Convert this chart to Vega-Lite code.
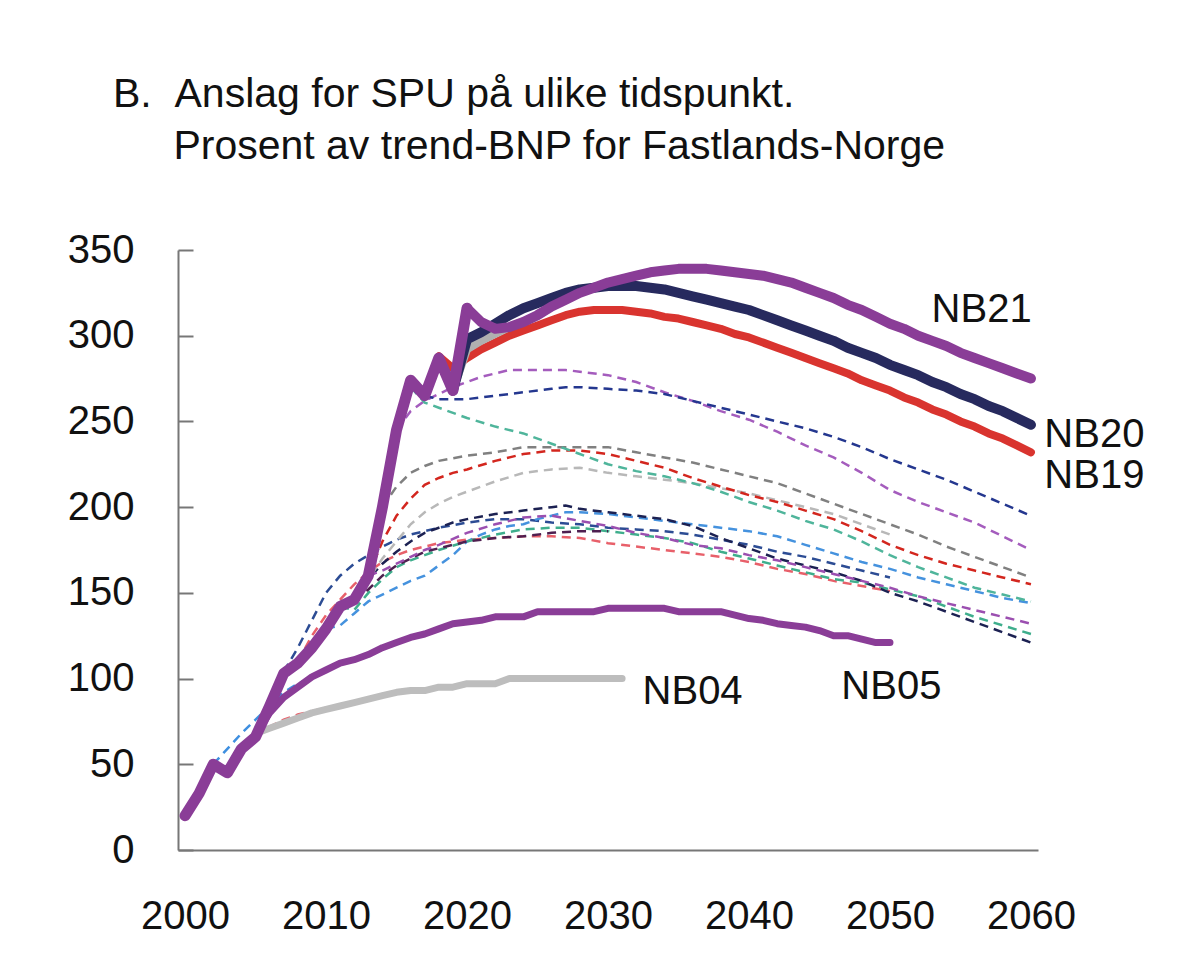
{
"$schema": "https://vega.github.io/schema/vega-lite/v6.json",
"autosize": {"type": "none"},
"width": 860, "height": 600,
"padding": {"left": 178, "top": 250, "right": 162, "bottom": 128},
"background": "white",
"title": {"text": ["B.\u00a0\u00a0Anslag for SPU på ulike tidspunkt.", "\u200b\u00a0\u00a0\u00a0\u00a0\u00a0\u200aProsent av trend-BNP for Fastlands-Norge"], "anchor": "start", "frame": "group", "dx": -65, "offset": 62, "fontSize": 41, "lineHeight": 52, "fontWeight": "normal", "color": "#111111", "font": "Liberation Sans"},
"config": {"view": {"stroke": null}, "font": "Liberation Sans"},
"datasets": {
"lines": [
{"s":"d_blue0","t":2002,"v":50},{"s":"d_blue0","t":2003,"v":59},{"s":"d_blue0","t":2004,"v":68},{"s":"d_blue0","t":2005,"v":76},{"s":"d_blue0","t":2006,"v":84},{"s":"d_blue0","t":2007,"v":92},{"s":"d_blue0","t":2008,"v":97},{"s":"d_blue0","t":2009,"v":101},{"s":"d_blue0","t":2010,"v":104},
{"s":"d_salmon0","t":2005,"v":67},{"s":"d_salmon0","t":2006,"v":72},{"s":"d_salmon0","t":2007,"v":76},{"s":"d_salmon0","t":2008,"v":79},{"s":"d_salmon0","t":2009,"v":81},{"s":"d_salmon0","t":2010,"v":83},
{"s":"d_navyM","t":2007,"v":104},{"s":"d_navyM","t":2008,"v":118},{"s":"d_navyM","t":2009,"v":134},{"s":"d_navyM","t":2010,"v":150},{"s":"d_navyM","t":2011,"v":160},{"s":"d_navyM","t":2012,"v":167},{"s":"d_navyM","t":2013,"v":172},{"s":"d_navyM","t":2014,"v":177},{"s":"d_navyM","t":2015,"v":181},{"s":"d_navyM","t":2016,"v":184},{"s":"d_navyM","t":2017,"v":186},{"s":"d_navyM","t":2018,"v":188},{"s":"d_navyM","t":2020,"v":191},{"s":"d_navyM","t":2022,"v":193},{"s":"d_navyM","t":2024,"v":193},{"s":"d_navyM","t":2026,"v":191},{"s":"d_navyM","t":2028,"v":190},{"s":"d_navyM","t":2030,"v":188},{"s":"d_navyM","t":2032,"v":187},{"s":"d_navyM","t":2034,"v":186},{"s":"d_navyM","t":2036,"v":184},{"s":"d_navyM","t":2038,"v":181},{"s":"d_navyM","t":2040,"v":178},{"s":"d_navyM","t":2042,"v":174},{"s":"d_navyM","t":2044,"v":171},{"s":"d_navyM","t":2046,"v":167},{"s":"d_navyM","t":2048,"v":163},{"s":"d_navyM","t":2050,"v":159},
{"s":"d_salmon","t":2008,"v":110},{"s":"d_salmon","t":2009,"v":125},{"s":"d_salmon","t":2010,"v":137},{"s":"d_salmon","t":2011,"v":146},{"s":"d_salmon","t":2012,"v":155},{"s":"d_salmon","t":2013,"v":162},{"s":"d_salmon","t":2014,"v":168},{"s":"d_salmon","t":2015,"v":172},{"s":"d_salmon","t":2016,"v":175},{"s":"d_salmon","t":2018,"v":179},{"s":"d_salmon","t":2020,"v":181},{"s":"d_salmon","t":2022,"v":182},{"s":"d_salmon","t":2024,"v":183},{"s":"d_salmon","t":2026,"v":183},{"s":"d_salmon","t":2028,"v":182},{"s":"d_salmon","t":2030,"v":179},{"s":"d_salmon","t":2032,"v":177},{"s":"d_salmon","t":2034,"v":175},{"s":"d_salmon","t":2036,"v":173},{"s":"d_salmon","t":2038,"v":171},{"s":"d_salmon","t":2040,"v":168},{"s":"d_salmon","t":2042,"v":164},{"s":"d_salmon","t":2044,"v":161},{"s":"d_salmon","t":2046,"v":157},{"s":"d_salmon","t":2048,"v":154},{"s":"d_salmon","t":2050,"v":151},
{"s":"d_lblue","t":2010,"v":129},{"s":"d_lblue","t":2011,"v":131},{"s":"d_lblue","t":2012,"v":138},{"s":"d_lblue","t":2013,"v":145},{"s":"d_lblue","t":2014,"v":149},{"s":"d_lblue","t":2015,"v":153},{"s":"d_lblue","t":2016,"v":157},{"s":"d_lblue","t":2017,"v":160},{"s":"d_lblue","t":2018,"v":166},{"s":"d_lblue","t":2019,"v":172},{"s":"d_lblue","t":2020,"v":180},{"s":"d_lblue","t":2021,"v":184},{"s":"d_lblue","t":2022,"v":187},{"s":"d_lblue","t":2023,"v":189},{"s":"d_lblue","t":2024,"v":190},{"s":"d_lblue","t":2025,"v":193},{"s":"d_lblue","t":2026,"v":195},{"s":"d_lblue","t":2027,"v":197},{"s":"d_lblue","t":2028,"v":197},{"s":"d_lblue","t":2030,"v":196},{"s":"d_lblue","t":2032,"v":194},{"s":"d_lblue","t":2034,"v":192},{"s":"d_lblue","t":2036,"v":190},{"s":"d_lblue","t":2038,"v":188},{"s":"d_lblue","t":2040,"v":186},{"s":"d_lblue","t":2042,"v":183},{"s":"d_lblue","t":2044,"v":178},{"s":"d_lblue","t":2046,"v":173},{"s":"d_lblue","t":2048,"v":168},{"s":"d_lblue","t":2050,"v":164},{"s":"d_lblue","t":2052,"v":159},{"s":"d_lblue","t":2054,"v":155},{"s":"d_lblue","t":2056,"v":151},{"s":"d_lblue","t":2058,"v":147},{"s":"d_lblue","t":2060,"v":144},
{"s":"d_teal2","t":2011,"v":142},{"s":"d_teal2","t":2012,"v":140},{"s":"d_teal2","t":2013,"v":150},{"s":"d_teal2","t":2014,"v":158},{"s":"d_teal2","t":2015,"v":165},{"s":"d_teal2","t":2016,"v":169},{"s":"d_teal2","t":2017,"v":172},{"s":"d_teal2","t":2018,"v":175},{"s":"d_teal2","t":2020,"v":180},{"s":"d_teal2","t":2022,"v":184},{"s":"d_teal2","t":2024,"v":187},{"s":"d_teal2","t":2026,"v":188},{"s":"d_teal2","t":2028,"v":188},{"s":"d_teal2","t":2030,"v":186},{"s":"d_teal2","t":2032,"v":184},{"s":"d_teal2","t":2034,"v":182},{"s":"d_teal2","t":2036,"v":179},{"s":"d_teal2","t":2038,"v":174},{"s":"d_teal2","t":2040,"v":170},{"s":"d_teal2","t":2042,"v":166},{"s":"d_teal2","t":2044,"v":162},{"s":"d_teal2","t":2046,"v":158},{"s":"d_teal2","t":2048,"v":156},{"s":"d_teal2","t":2050,"v":152},{"s":"d_teal2","t":2052,"v":148},{"s":"d_teal2","t":2054,"v":142},{"s":"d_teal2","t":2056,"v":136},{"s":"d_teal2","t":2058,"v":131},{"s":"d_teal2","t":2060,"v":126},
{"s":"d_dnavy","t":2012,"v":146},{"s":"d_dnavy","t":2013,"v":158},{"s":"d_dnavy","t":2014,"v":167},{"s":"d_dnavy","t":2015,"v":174},{"s":"d_dnavy","t":2016,"v":180},{"s":"d_dnavy","t":2017,"v":185},{"s":"d_dnavy","t":2018,"v":188},{"s":"d_dnavy","t":2019,"v":191},{"s":"d_dnavy","t":2020,"v":193},{"s":"d_dnavy","t":2022,"v":196},{"s":"d_dnavy","t":2024,"v":198},{"s":"d_dnavy","t":2026,"v":200},{"s":"d_dnavy","t":2027,"v":201},{"s":"d_dnavy","t":2028,"v":199},{"s":"d_dnavy","t":2030,"v":197},{"s":"d_dnavy","t":2032,"v":195},{"s":"d_dnavy","t":2034,"v":193},{"s":"d_dnavy","t":2036,"v":189},{"s":"d_dnavy","t":2038,"v":182},{"s":"d_dnavy","t":2040,"v":176},{"s":"d_dnavy","t":2042,"v":170},{"s":"d_dnavy","t":2044,"v":166},{"s":"d_dnavy","t":2046,"v":162},{"s":"d_dnavy","t":2048,"v":157},{"s":"d_dnavy","t":2050,"v":150},{"s":"d_dnavy","t":2052,"v":145},{"s":"d_dnavy","t":2054,"v":139},{"s":"d_dnavy","t":2056,"v":133},{"s":"d_dnavy","t":2058,"v":127},{"s":"d_dnavy","t":2060,"v":121},
{"s":"d_egg","t":2012,"v":146},{"s":"d_egg","t":2013,"v":152},{"s":"d_egg","t":2014,"v":160},{"s":"d_egg","t":2015,"v":166},{"s":"d_egg","t":2016,"v":170},{"s":"d_egg","t":2017,"v":174},{"s":"d_egg","t":2018,"v":176},{"s":"d_egg","t":2020,"v":180},{"s":"d_egg","t":2022,"v":182},{"s":"d_egg","t":2024,"v":183},{"s":"d_egg","t":2026,"v":185},{"s":"d_egg","t":2028,"v":186},{"s":"d_egg","t":2030,"v":186},
{"s":"d_purp2","t":2013,"v":160},{"s":"d_purp2","t":2014,"v":163},{"s":"d_purp2","t":2015,"v":167},{"s":"d_purp2","t":2016,"v":171},{"s":"d_purp2","t":2017,"v":175},{"s":"d_purp2","t":2018,"v":178},{"s":"d_purp2","t":2020,"v":185},{"s":"d_purp2","t":2022,"v":190},{"s":"d_purp2","t":2024,"v":194},{"s":"d_purp2","t":2026,"v":195},{"s":"d_purp2","t":2028,"v":192},{"s":"d_purp2","t":2030,"v":189},{"s":"d_purp2","t":2032,"v":185},{"s":"d_purp2","t":2034,"v":182},{"s":"d_purp2","t":2036,"v":178},{"s":"d_purp2","t":2038,"v":176},{"s":"d_purp2","t":2040,"v":172},{"s":"d_purp2","t":2042,"v":169},{"s":"d_purp2","t":2044,"v":165},{"s":"d_purp2","t":2046,"v":161},{"s":"d_purp2","t":2048,"v":157},{"s":"d_purp2","t":2050,"v":153},{"s":"d_purp2","t":2052,"v":148},{"s":"d_purp2","t":2054,"v":144},{"s":"d_purp2","t":2056,"v":140},{"s":"d_purp2","t":2058,"v":136},{"s":"d_purp2","t":2060,"v":132},
{"s":"d_lgray","t":2012,"v":146},{"s":"d_lgray","t":2013,"v":158},{"s":"d_lgray","t":2014,"v":170},{"s":"d_lgray","t":2015,"v":180},{"s":"d_lgray","t":2016,"v":190},{"s":"d_lgray","t":2017,"v":197},{"s":"d_lgray","t":2018,"v":202},{"s":"d_lgray","t":2019,"v":206},{"s":"d_lgray","t":2020,"v":209},{"s":"d_lgray","t":2022,"v":215},{"s":"d_lgray","t":2024,"v":220},{"s":"d_lgray","t":2026,"v":222},{"s":"d_lgray","t":2028,"v":223},{"s":"d_lgray","t":2030,"v":220},{"s":"d_lgray","t":2032,"v":218},{"s":"d_lgray","t":2034,"v":216},{"s":"d_lgray","t":2036,"v":214},{"s":"d_lgray","t":2038,"v":211},{"s":"d_lgray","t":2040,"v":208},{"s":"d_lgray","t":2042,"v":204},{"s":"d_lgray","t":2044,"v":200},{"s":"d_lgray","t":2046,"v":196},{"s":"d_lgray","t":2048,"v":190},{"s":"d_lgray","t":2050,"v":184},
{"s":"d_red","t":2013,"v":160},{"s":"d_red","t":2014,"v":180},{"s":"d_red","t":2015,"v":195},{"s":"d_red","t":2016,"v":205},{"s":"d_red","t":2017,"v":213},{"s":"d_red","t":2018,"v":217},{"s":"d_red","t":2019,"v":220},{"s":"d_red","t":2020,"v":222},{"s":"d_red","t":2022,"v":227},{"s":"d_red","t":2024,"v":231},{"s":"d_red","t":2026,"v":233},{"s":"d_red","t":2028,"v":233},{"s":"d_red","t":2030,"v":231},{"s":"d_red","t":2032,"v":227},{"s":"d_red","t":2034,"v":223},{"s":"d_red","t":2036,"v":217},{"s":"d_red","t":2038,"v":212},{"s":"d_red","t":2040,"v":207},{"s":"d_red","t":2042,"v":203},{"s":"d_red","t":2044,"v":198},{"s":"d_red","t":2046,"v":193},{"s":"d_red","t":2048,"v":186},{"s":"d_red","t":2050,"v":178},{"s":"d_red","t":2052,"v":172},{"s":"d_red","t":2054,"v":167},{"s":"d_red","t":2056,"v":163},{"s":"d_red","t":2058,"v":159},{"s":"d_red","t":2060,"v":155},
{"s":"d_gray","t":2014,"v":200},{"s":"d_gray","t":2015,"v":212},{"s":"d_gray","t":2016,"v":220},{"s":"d_gray","t":2017,"v":224},{"s":"d_gray","t":2018,"v":227},{"s":"d_gray","t":2020,"v":230},{"s":"d_gray","t":2022,"v":232},{"s":"d_gray","t":2024,"v":235},{"s":"d_gray","t":2026,"v":235},{"s":"d_gray","t":2028,"v":235},{"s":"d_gray","t":2030,"v":235},{"s":"d_gray","t":2032,"v":232},{"s":"d_gray","t":2034,"v":229},{"s":"d_gray","t":2036,"v":226},{"s":"d_gray","t":2038,"v":222},{"s":"d_gray","t":2040,"v":218},{"s":"d_gray","t":2042,"v":214},{"s":"d_gray","t":2044,"v":208},{"s":"d_gray","t":2046,"v":202},{"s":"d_gray","t":2048,"v":196},{"s":"d_gray","t":2050,"v":190},{"s":"d_gray","t":2052,"v":184},{"s":"d_gray","t":2054,"v":177},{"s":"d_gray","t":2056,"v":171},{"s":"d_gray","t":2058,"v":165},{"s":"d_gray","t":2060,"v":159},
{"s":"d_purp1","t":2015,"v":245},{"s":"d_purp1","t":2016,"v":256},{"s":"d_purp1","t":2017,"v":262},{"s":"d_purp1","t":2018,"v":266},{"s":"d_purp1","t":2019,"v":270},{"s":"d_purp1","t":2020,"v":273},{"s":"d_purp1","t":2021,"v":276},{"s":"d_purp1","t":2022,"v":278},{"s":"d_purp1","t":2023,"v":280},{"s":"d_purp1","t":2025,"v":280},{"s":"d_purp1","t":2027,"v":280},{"s":"d_purp1","t":2028,"v":279},{"s":"d_purp1","t":2030,"v":277},{"s":"d_purp1","t":2032,"v":273},{"s":"d_purp1","t":2034,"v":267},{"s":"d_purp1","t":2036,"v":262},{"s":"d_purp1","t":2038,"v":256},{"s":"d_purp1","t":2040,"v":251},{"s":"d_purp1","t":2042,"v":244},{"s":"d_purp1","t":2044,"v":236},{"s":"d_purp1","t":2046,"v":229},{"s":"d_purp1","t":2048,"v":220},{"s":"d_purp1","t":2050,"v":210},{"s":"d_purp1","t":2052,"v":203},{"s":"d_purp1","t":2054,"v":197},{"s":"d_purp1","t":2056,"v":191},{"s":"d_purp1","t":2058,"v":183},{"s":"d_purp1","t":2060,"v":175},
{"s":"d_teal1","t":2016,"v":270},{"s":"d_teal1","t":2017,"v":261},{"s":"d_teal1","t":2018,"v":258},{"s":"d_teal1","t":2020,"v":252},{"s":"d_teal1","t":2022,"v":247},{"s":"d_teal1","t":2024,"v":243},{"s":"d_teal1","t":2026,"v":237},{"s":"d_teal1","t":2028,"v":231},{"s":"d_teal1","t":2030,"v":225},{"s":"d_teal1","t":2032,"v":221},{"s":"d_teal1","t":2034,"v":218},{"s":"d_teal1","t":2036,"v":214},{"s":"d_teal1","t":2038,"v":209},{"s":"d_teal1","t":2040,"v":203},{"s":"d_teal1","t":2042,"v":198},{"s":"d_teal1","t":2044,"v":192},{"s":"d_teal1","t":2046,"v":187},{"s":"d_teal1","t":2048,"v":180},{"s":"d_teal1","t":2050,"v":172},{"s":"d_teal1","t":2052,"v":165},{"s":"d_teal1","t":2054,"v":159},{"s":"d_teal1","t":2056,"v":153},{"s":"d_teal1","t":2058,"v":149},{"s":"d_teal1","t":2060,"v":145},
{"s":"d_navy1","t":2017,"v":265},{"s":"d_navy1","t":2018,"v":263},{"s":"d_navy1","t":2020,"v":263},{"s":"d_navy1","t":2022,"v":265},{"s":"d_navy1","t":2024,"v":267},{"s":"d_navy1","t":2026,"v":269},{"s":"d_navy1","t":2027,"v":270},{"s":"d_navy1","t":2028,"v":270},{"s":"d_navy1","t":2030,"v":269},{"s":"d_navy1","t":2032,"v":268},{"s":"d_navy1","t":2034,"v":266},{"s":"d_navy1","t":2036,"v":262},{"s":"d_navy1","t":2038,"v":258},{"s":"d_navy1","t":2040,"v":254},{"s":"d_navy1","t":2042,"v":250},{"s":"d_navy1","t":2044,"v":246},{"s":"d_navy1","t":2046,"v":241},{"s":"d_navy1","t":2048,"v":235},{"s":"d_navy1","t":2050,"v":228},{"s":"d_navy1","t":2052,"v":222},{"s":"d_navy1","t":2054,"v":216},{"s":"d_navy1","t":2056,"v":209},{"s":"d_navy1","t":2058,"v":202},{"s":"d_navy1","t":2060,"v":195},
{"s":"NB04","t":2005,"v":68},{"s":"NB04","t":2006,"v":71},{"s":"NB04","t":2007,"v":74},{"s":"NB04","t":2008,"v":77},{"s":"NB04","t":2009,"v":80},{"s":"NB04","t":2010,"v":82},{"s":"NB04","t":2011,"v":84},{"s":"NB04","t":2012,"v":86},{"s":"NB04","t":2013,"v":88},{"s":"NB04","t":2014,"v":90},{"s":"NB04","t":2015,"v":92},{"s":"NB04","t":2016,"v":93},{"s":"NB04","t":2017,"v":93},{"s":"NB04","t":2018,"v":95},{"s":"NB04","t":2019,"v":95},{"s":"NB04","t":2020,"v":97},{"s":"NB04","t":2021,"v":97},{"s":"NB04","t":2022,"v":97},{"s":"NB04","t":2023,"v":100},{"s":"NB04","t":2024,"v":100},{"s":"NB04","t":2025,"v":100},{"s":"NB04","t":2026,"v":100},{"s":"NB04","t":2027,"v":100},{"s":"NB04","t":2028,"v":100},{"s":"NB04","t":2029,"v":100},{"s":"NB04","t":2030,"v":100},{"s":"NB04","t":2031,"v":100},
{"s":"NB05","t":2005,"v":67},{"s":"NB05","t":2006,"v":80},{"s":"NB05","t":2007,"v":89},{"s":"NB05","t":2008,"v":95},{"s":"NB05","t":2009,"v":101},{"s":"NB05","t":2010,"v":105},{"s":"NB05","t":2011,"v":109},{"s":"NB05","t":2012,"v":111},{"s":"NB05","t":2013,"v":114},{"s":"NB05","t":2014,"v":118},{"s":"NB05","t":2015,"v":121},{"s":"NB05","t":2016,"v":124},{"s":"NB05","t":2017,"v":126},{"s":"NB05","t":2018,"v":129},{"s":"NB05","t":2019,"v":132},{"s":"NB05","t":2020,"v":133},{"s":"NB05","t":2021,"v":134},{"s":"NB05","t":2022,"v":136},{"s":"NB05","t":2023,"v":136},{"s":"NB05","t":2024,"v":136},{"s":"NB05","t":2025,"v":139},{"s":"NB05","t":2026,"v":139},{"s":"NB05","t":2027,"v":139},{"s":"NB05","t":2028,"v":139},{"s":"NB05","t":2029,"v":139},{"s":"NB05","t":2030,"v":141},{"s":"NB05","t":2031,"v":141},{"s":"NB05","t":2032,"v":141},{"s":"NB05","t":2033,"v":141},{"s":"NB05","t":2034,"v":141},{"s":"NB05","t":2035,"v":139},{"s":"NB05","t":2036,"v":139},{"s":"NB05","t":2037,"v":139},{"s":"NB05","t":2038,"v":139},{"s":"NB05","t":2039,"v":137},{"s":"NB05","t":2040,"v":135},{"s":"NB05","t":2041,"v":134},{"s":"NB05","t":2042,"v":132},{"s":"NB05","t":2043,"v":131},{"s":"NB05","t":2044,"v":130},{"s":"NB05","t":2045,"v":128},{"s":"NB05","t":2046,"v":125},{"s":"NB05","t":2047,"v":125},{"s":"NB05","t":2048,"v":123},{"s":"NB05","t":2049,"v":121},{"s":"NB05","t":2050,"v":121},
{"s":"NB19","t":2018,"v":288},{"s":"NB19","t":2019,"v":281},{"s":"NB19","t":2020,"v":287},{"s":"NB19","t":2021,"v":292},{"s":"NB19","t":2022,"v":296},{"s":"NB19","t":2023,"v":300},{"s":"NB19","t":2024,"v":303},{"s":"NB19","t":2025,"v":306},{"s":"NB19","t":2026,"v":309},{"s":"NB19","t":2027,"v":312},{"s":"NB19","t":2028,"v":314},{"s":"NB19","t":2029,"v":315},{"s":"NB19","t":2030,"v":315},{"s":"NB19","t":2031,"v":315},{"s":"NB19","t":2032,"v":314},{"s":"NB19","t":2033,"v":313},{"s":"NB19","t":2034,"v":311},{"s":"NB19","t":2035,"v":310},{"s":"NB19","t":2036,"v":308},{"s":"NB19","t":2037,"v":306},{"s":"NB19","t":2038,"v":304},{"s":"NB19","t":2039,"v":301},{"s":"NB19","t":2040,"v":299},{"s":"NB19","t":2041,"v":296},{"s":"NB19","t":2042,"v":293},{"s":"NB19","t":2043,"v":290},{"s":"NB19","t":2044,"v":287},{"s":"NB19","t":2045,"v":284},{"s":"NB19","t":2046,"v":281},{"s":"NB19","t":2047,"v":278},{"s":"NB19","t":2048,"v":274},{"s":"NB19","t":2049,"v":271},{"s":"NB19","t":2050,"v":268},{"s":"NB19","t":2051,"v":264},{"s":"NB19","t":2052,"v":261},{"s":"NB19","t":2053,"v":257},{"s":"NB19","t":2054,"v":254},{"s":"NB19","t":2055,"v":250},{"s":"NB19","t":2056,"v":247},{"s":"NB19","t":2057,"v":243},{"s":"NB19","t":2058,"v":240},{"s":"NB19","t":2059,"v":236},{"s":"NB19","t":2060,"v":232},
{"s":"RNB","t":2019,"v":268},{"s":"RNB","t":2020,"v":292},{"s":"RNB","t":2021,"v":297},{"s":"RNB","t":2022,"v":301},{"s":"RNB","t":2023,"v":305},
{"s":"NB20","t":2019,"v":268},{"s":"NB20","t":2020,"v":298},{"s":"NB20","t":2021,"v":302},{"s":"NB20","t":2022,"v":307},{"s":"NB20","t":2023,"v":312},{"s":"NB20","t":2024,"v":316},{"s":"NB20","t":2025,"v":319},{"s":"NB20","t":2026,"v":322},{"s":"NB20","t":2027,"v":325},{"s":"NB20","t":2028,"v":327},{"s":"NB20","t":2029,"v":328},{"s":"NB20","t":2030,"v":329},{"s":"NB20","t":2031,"v":329},{"s":"NB20","t":2032,"v":329},{"s":"NB20","t":2033,"v":328},{"s":"NB20","t":2034,"v":327},{"s":"NB20","t":2035,"v":325},{"s":"NB20","t":2036,"v":323},{"s":"NB20","t":2037,"v":321},{"s":"NB20","t":2038,"v":319},{"s":"NB20","t":2039,"v":317},{"s":"NB20","t":2040,"v":315},{"s":"NB20","t":2041,"v":312},{"s":"NB20","t":2042,"v":309},{"s":"NB20","t":2043,"v":306},{"s":"NB20","t":2044,"v":303},{"s":"NB20","t":2045,"v":300},{"s":"NB20","t":2046,"v":297},{"s":"NB20","t":2047,"v":293},{"s":"NB20","t":2048,"v":290},{"s":"NB20","t":2049,"v":287},{"s":"NB20","t":2050,"v":283},{"s":"NB20","t":2051,"v":280},{"s":"NB20","t":2052,"v":277},{"s":"NB20","t":2053,"v":273},{"s":"NB20","t":2054,"v":270},{"s":"NB20","t":2055,"v":266},{"s":"NB20","t":2056,"v":263},{"s":"NB20","t":2057,"v":259},{"s":"NB20","t":2058,"v":256},{"s":"NB20","t":2059,"v":252},{"s":"NB20","t":2060,"v":248},
{"s":"hist","t":2000,"v":20},{"s":"hist","t":2001,"v":33},{"s":"hist","t":2002,"v":50},{"s":"hist","t":2003,"v":45},{"s":"hist","t":2004,"v":59},{"s":"hist","t":2005,"v":66},{"s":"hist","t":2006,"v":84},{"s":"hist","t":2007,"v":103},{"s":"hist","t":2008,"v":109},{"s":"hist","t":2009,"v":118},{"s":"hist","t":2010,"v":129},{"s":"hist","t":2011,"v":142},{"s":"hist","t":2012,"v":146},{"s":"hist","t":2013,"v":160},{"s":"hist","t":2014,"v":200},{"s":"hist","t":2015,"v":245},{"s":"hist","t":2016,"v":274},{"s":"hist","t":2017,"v":265},{"s":"hist","t":2018,"v":287},{"s":"hist","t":2019,"v":268},{"s":"hist","t":2020,"v":316},
{"s":"NB21","t":2020,"v":316},{"s":"NB21","t":2021,"v":308},{"s":"NB21","t":2022,"v":304},{"s":"NB21","t":2023,"v":305},{"s":"NB21","t":2024,"v":308},{"s":"NB21","t":2025,"v":312},{"s":"NB21","t":2026,"v":317},{"s":"NB21","t":2027,"v":321},{"s":"NB21","t":2028,"v":325},{"s":"NB21","t":2029,"v":328},{"s":"NB21","t":2030,"v":331},{"s":"NB21","t":2031,"v":333},{"s":"NB21","t":2032,"v":335},{"s":"NB21","t":2033,"v":337},{"s":"NB21","t":2034,"v":338},{"s":"NB21","t":2035,"v":339},{"s":"NB21","t":2036,"v":339},{"s":"NB21","t":2037,"v":339},{"s":"NB21","t":2038,"v":338},{"s":"NB21","t":2039,"v":337},{"s":"NB21","t":2040,"v":336},{"s":"NB21","t":2041,"v":335},{"s":"NB21","t":2042,"v":333},{"s":"NB21","t":2043,"v":331},{"s":"NB21","t":2044,"v":328},{"s":"NB21","t":2045,"v":325},{"s":"NB21","t":2046,"v":322},{"s":"NB21","t":2047,"v":318},{"s":"NB21","t":2048,"v":315},{"s":"NB21","t":2049,"v":311},{"s":"NB21","t":2050,"v":307},{"s":"NB21","t":2051,"v":304},{"s":"NB21","t":2052,"v":300},{"s":"NB21","t":2053,"v":297},{"s":"NB21","t":2054,"v":294},{"s":"NB21","t":2055,"v":290},{"s":"NB21","t":2056,"v":287},{"s":"NB21","t":2057,"v":284},{"s":"NB21","t":2058,"v":281},{"s":"NB21","t":2059,"v":278},{"s":"NB21","t":2060,"v":275}
],
"labels": [
{"label":"NB21","t":2056.5,"v":315},{"label":"NB20","t":2064.5,"v":242},{"label":"NB19","t":2064.5,"v":218},{"label":"NB04","t":2036,"v":92},{"label":"NB05","t":2050.1,"v":95}
]
},
"encoding": {
"x": {"field": "t", "type": "quantitative", "scale": {"domain": [1999.5, 2060.5], "nice": false, "zero": false},
  "axis": {"values": [2000,2010,2020,2030,2040,2050,2060], "format": "d", "title": null, "grid": false, "ticks": false, "domainColor": "#777777", "domainWidth": 2, "labelFontSize": 40, "labelColor": "#111111", "labelPadding": 46, "labelFont": "Liberation Sans"}},
"y": {"field": "v", "type": "quantitative", "scale": {"domain": [0, 350], "nice": false},
  "axis": {"values": [0,50,100,150,200,250,300,350], "title": null, "grid": false, "tickSize": -15, "tickColor": "#777777", "tickWidth": 2, "domainColor": "#777777", "domainWidth": 2, "labelFontSize": 40, "labelColor": "#111111", "labelPadding": 59, "labelFont": "Liberation Sans"}}
},
"layer": [
{"data": {"name": "lines"}, "transform": [{"filter": "indexof(datum.s, 'd_') == 0"}],
 "mark": {"type": "line", "strokeWidth": 2.5, "strokeDash": [9, 6]},
 "encoding": {"color": {"field": "s", "type": "nominal", "legend": null, "scale": {"domain": ["d_blue0","d_salmon0","d_navyM","d_salmon","d_lblue","d_teal2","d_dnavy","d_egg","d_purp2","d_lgray","d_red","d_gray","d_purp1","d_teal1","d_navy1"], "range": ["#3e8fe0","#e8606a","#2c4c94","#e8606a","#4592de","#3fae8c","#1c2152","#4e1f50","#9b4fb0","#b8b8b8","#d3261e","#808080","#a45cbd","#4fb59b","#24378f"]}}}},
{"data": {"name": "lines"}, "transform": [{"filter": "datum.s == 'NB04'"}], "mark": {"type": "line", "color": "#bdbdbd", "strokeWidth": 7, "strokeCap": "round", "strokeJoin": "round"}},
{"data": {"name": "lines"}, "transform": [{"filter": "datum.s == 'NB05'"}], "mark": {"type": "line", "color": "#8a3d97", "strokeWidth": 7, "strokeCap": "round", "strokeJoin": "round"}},
{"data": {"name": "lines"}, "transform": [{"filter": "datum.s == 'NB19'"}], "mark": {"type": "line", "color": "#d9342f", "strokeWidth": 8, "strokeCap": "round", "strokeJoin": "round"}},
{"data": {"name": "lines"}, "transform": [{"filter": "datum.s == 'RNB'"}], "mark": {"type": "line", "color": "#b0b0b0", "strokeWidth": 8, "strokeCap": "round", "strokeJoin": "round"}},
{"data": {"name": "lines"}, "transform": [{"filter": "datum.s == 'NB20'"}], "mark": {"type": "line", "color": "#272a5e", "strokeWidth": 10, "strokeCap": "round", "strokeJoin": "round"}},
{"data": {"name": "lines"}, "transform": [{"filter": "datum.s == 'hist'"}], "mark": {"type": "line", "color": "#8a3d97", "strokeWidth": 11, "strokeCap": "round", "strokeJoin": "round"}},
{"data": {"name": "lines"}, "transform": [{"filter": "datum.s == 'NB21'"}], "mark": {"type": "line", "color": "#8a3d97", "strokeWidth": 10, "strokeCap": "round", "strokeJoin": "round"}},
{"data": {"name": "labels"}, "mark": {"type": "text", "fontSize": 40, "align": "center", "baseline": "middle", "color": "#111111", "font": "Liberation Sans"},
 "encoding": {"text": {"field": "label"}}}
]
}
